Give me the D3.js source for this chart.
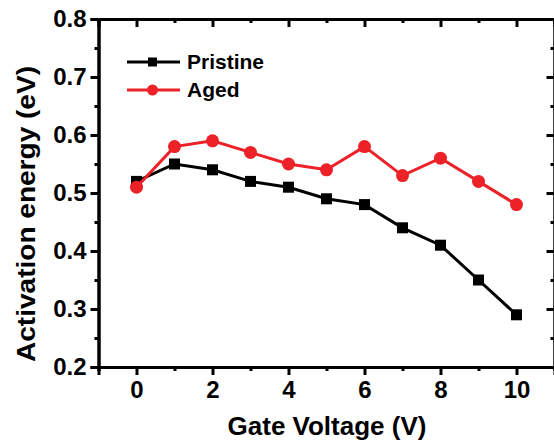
<!DOCTYPE html>
<html>
<head>
<meta charset="utf-8">
<script src="https://cdn.jsdelivr.net/npm/d3@7"></script>
<style>
  body { margin: 0; background: #fff; }
  svg text { font-family: "Liberation Sans", Arial, sans-serif; font-weight: bold; fill: #000; }
</style>
</head>
<body>
<div id="chart"></div>
<script>
'use strict';

// chart data
var gateVoltage = [0, 1, 2, 3, 4, 5, 6, 7, 8, 9, 10];
var pristine = [0.52, 0.55, 0.54, 0.52, 0.51, 0.49, 0.48, 0.44, 0.41, 0.35, 0.29];
var aged = [0.51, 0.58, 0.59, 0.57, 0.55, 0.54, 0.58, 0.53, 0.56, 0.52, 0.48];
var xMajorTicks = [0, 2, 4, 6, 8, 10];
var xMinorTicks = [-1, 1, 3, 5, 7, 9, 11];
var yMajorTicks = [0.2, 0.3, 0.4, 0.5, 0.6, 0.7, 0.8];
var yMinorTicks = [0.25, 0.35, 0.45, 0.55, 0.65, 0.75];
var seriesNames = ['Pristine', 'Aged'];

var width = 554, height = 445;
// plot frame (window.top is read-only, so no "top" here)
var plotLeft = 98.5, plotRight = 554.5, plotTop = 19, plotBottom = 367;
var red = '#ec2228';

var svg = d3.select('#chart').append('svg')
  .attr('width', width)
  .attr('height', height);

var x = d3.scaleLinear().domain([-1, 11]).range([plotLeft, plotRight]);
var y = d3.scaleLinear().domain([0.2, 0.8]).range([plotBottom, plotTop]);

// draws an axis with major + minor ticks, no labels on the minor one
var drawAxis = function(axisFn, scale, pos, majors, minors, inward, labels){
  var sign = inward ? -1 : 1;
  var g = svg.append('g').attr('transform', pos);
  g.call(axisFn(scale).tickValues(minors).tickSize(4 * sign).tickFormat(''));
  var g2 = svg.append('g').attr('transform', pos);
  g2.call(axisFn(scale).tickValues(majors).tickSize(8 * sign).tickPadding(inward ? 0 : 6)
    .tickFormat(labels ? d3.format('.1~f') : ''));
  [g, g2].forEach(function(s){
    s.selectAll('path.domain').attr('stroke', '#000').attr('stroke-width', 3);
    s.selectAll('.tick line').attr('stroke', '#000').attr('stroke-width', 3);
  });
  return g2;
};

var xb = drawAxis(d3.axisBottom, x, 'translate(0,' + plotBottom + ')', xMajorTicks, xMinorTicks, false, true);
xb.selectAll('.tick text').style('font-size', '24px').attr('y', 14);
xb.selectAll('.tick text').text(function(d){ return d3.format('d')(d); });
drawAxis(d3.axisTop, x, 'translate(0,' + plotTop + ')', xMajorTicks, xMinorTicks, true, false);
var yl = drawAxis(d3.axisLeft, y, 'translate(' + plotLeft + ',0)', yMajorTicks, yMinorTicks, false, true);
yl.selectAll('.tick text').style('font-size', '24px').attr('x', -12);
drawAxis(d3.axisRight, y, 'translate(' + plotRight + ',0)', yMajorTicks, yMinorTicks, true, false);

// axis titles
svg.append('text')
  .attr('x', 327).attr('y', 435)
  .attr('text-anchor', 'middle')
  .style('font-size', '26px')
  .text('Gate Voltage (V)');

svg.append('text')
  .attr('transform', 'translate(35,214) rotate(-90)')
  .attr('text-anchor', 'middle')
  .attr('textLength', 296).attr('lengthAdjust', 'spacingAndGlyphs')
  .style('font-size', '26px')
  .text('Activation energy (eV)');

var line = d3.line()
  .x(function(d){ return x(d[0]); })
  .y(function(d){ return y(d[1]); });

var pristinePts = d3.zip(gateVoltage, pristine);
var agedPts = d3.zip(gateVoltage, aged);

// pristine series
svg.append('path').datum(pristinePts)
  .attr('d', line).attr('fill', 'none')
  .attr('stroke', '#000').attr('stroke-width', 3);
svg.selectAll('rect.pristine').data(pristinePts)
  .enter().append('rect')
  .attr('class', 'pristine')
  .attr('x', function(d){ return x(d[0]) - 5.5; })
  .attr('y', function(d){ return y(d[1]) - 5.5; })
  .attr('width', 11).attr('height', 11)
  .attr('fill', '#000');

// aged series
svg.append('path').datum(agedPts)
  .attr('d', line).attr('fill', 'none')
  .attr('stroke', red).attr('stroke-width', 3);
svg.selectAll('circle.aged').data(agedPts)
  .enter().append('circle')
  .attr('class', 'aged')
  .attr('cx', function(d){ return x(d[0]); })
  .attr('cy', function(d){ return y(d[1]); })
  .attr('r', 6.5)
  .attr('fill', red);

// legend
var legend = svg.append('g');
var legendRows = [
  {name: seriesNames[0], color: '#000', shape: 'square', y: 62},
  {name: seriesNames[1], color: red, shape: 'circle', y: 90}
];
legendRows.forEach(function(r){
  legend.append('line')
    .attr('x1', 127).attr('x2', 180).attr('y1', r.y).attr('y2', r.y)
    .attr('stroke', r.color).attr('stroke-width', 3);
  if(r.shape === 'square'){
    legend.append('rect').attr('x', 148).attr('y', r.y - 4.5)
      .attr('width', 9).attr('height', 9).attr('fill', r.color);
  } else {
    legend.append('circle').attr('cx', 152.5).attr('cy', r.y).attr('r', 5.5).attr('fill', r.color);
  }
  legend.append('text')
    .attr('x', 187).attr('y', r.y + 7)
    .style('font-size', '21px')
    .text(r.name);
});
</script>
</body>
</html>
